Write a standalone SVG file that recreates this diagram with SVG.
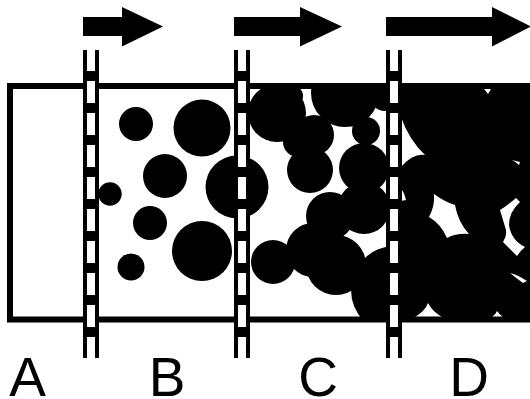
<svg xmlns="http://www.w3.org/2000/svg" width="530" height="399" viewBox="0 0 530 399">
<style>
.p{fill:#000}
.g{fill:#fff}
.lbl{font-family:"Liberation Sans",Arial,sans-serif;font-size:55px;fill:#000;text-anchor:middle}
.mw{fill:#fff}
.ml{fill:#000}
.md{stroke:#000;stroke-width:8;stroke-dasharray:10 22;fill:none}
</style>
<defs>
<clipPath id="box"><rect x="10" y="86" width="530" height="233.5"/></clipPath>
<g id="membrane">
<rect class="mw" x="-8" y="50" width="16" height="308"/>
<rect class="ml" x="-8" y="50" width="4" height="308"/>
<rect class="ml" x="4" y="50" width="4" height="308"/>
<line class="md" x1="0" y1="71" x2="0" y2="358"/>
</g>
</defs>
<rect width="530" height="399" fill="#fff"/>
<g id="chamber">
<rect x="10" y="86" width="540" height="233.5" fill="#fff"/>
</g>
<g id="particles" clip-path="url(#box)">
<g id="section-B">
<circle class="p" cx="136" cy="124" r="17"/>
<circle class="p" cx="202" cy="128" r="28.5"/>
<circle class="p" cx="165" cy="176" r="22"/>
<circle class="p" cx="110" cy="194" r="11.7"/>
<circle class="p" cx="150" cy="223" r="17"/>
<circle class="p" cx="202" cy="251" r="30"/>
<circle class="p" cx="131" cy="267" r="13.5"/>
<circle class="p" cx="237" cy="187" r="31.5"/>
</g>
<g id="section-C">
<circle class="p" cx="277" cy="113" r="29"/>
<circle class="p" cx="292" cy="96" r="11"/>
<circle class="p" cx="345" cy="93" r="34"/>
<circle class="p" cx="385" cy="95" r="16"/>
<circle class="p" cx="366" cy="131" r="14"/>
<circle class="p" cx="314" cy="135" r="20"/>
<circle class="p" cx="298" cy="142" r="15"/>
<circle class="p" cx="310" cy="170" r="23"/>
<circle class="p" cx="364" cy="168" r="25"/>
<circle class="p" cx="330" cy="216" r="24"/>
<circle class="p" cx="364" cy="208" r="26"/>
<circle class="p" cx="273" cy="262" r="22"/>
<circle class="p" cx="313" cy="250" r="27"/>
<circle class="p" cx="336" cy="265" r="30"/>
<circle class="p" cx="395" cy="290" r="44"/>
</g>
<g id="section-D">
<rect class="p" x="394" y="80" width="140" height="245"/>
<path class="g" d="M401,117 Q409,140 425,155 Q413,153 401,167 Z"/>
<path class="g" d="M484,89 L491,89 L488,94 Z"/>
<path class="g" d="M512,160 L520,162 L519,165 Q516,162 512,160 Z"/>
<path class="g" d="M401,188 Q405,194 406,200 L401,201 Z"/>
<path class="g" d="M434,194 Q445,202 455,205 Q458,222 469,234 Q457,233 447,238 Q441,224 429,217 Q435,206 434,194 Z"/>
<path class="g" d="M516,198 L520,202 Q509,212 509,225 Q511,240 525,247 Q520,251 517,256 Q509,248 503,242 Q507,236 506,230 Q503,220 500,210 Q508,205 516,198 Z"/>
<path class="g" d="M510,273 Q518,275 527,281 L523,283 Q516,278 510,273 Z"/>
<path class="g" d="M415,317 Q425,311 428,303 Q432,311 442,317 Z"/>
<path class="g" d="M492,317 Q496,314 497,311 Q499,314 503,317 Z"/>
</g>
</g>
<g id="chamber-wall">
<rect x="10" y="86" width="540" height="233.5" fill="none" stroke="#000" stroke-width="6"/>
</g>
<g id="membrane-1"><use href="#membrane" x="91"/></g>
<g id="membrane-2"><use href="#membrane" x="242"/></g>
<g id="membrane-3"><use href="#membrane" x="394"/></g>
<g id="arrows">
<polygon class="p" points="83,17 122,17 122,7 163,26.5 122,46.5 122,36 83,36"/>
<polygon class="p" points="234,17 300,17 300,7 342,26.5 300,46.5 300,36 234,36"/>
<polygon class="p" points="386,17 492,17 492,7 531,26.5 492,46.5 492,36 386,36"/>
</g>
<g id="labels">
<text class="lbl" x="27.5" y="396">A</text>
<text class="lbl" x="167" y="396">B</text>
<text class="lbl" x="318" y="396">C</text>
<text class="lbl" x="469" y="396">D</text>
</g>
</svg>
